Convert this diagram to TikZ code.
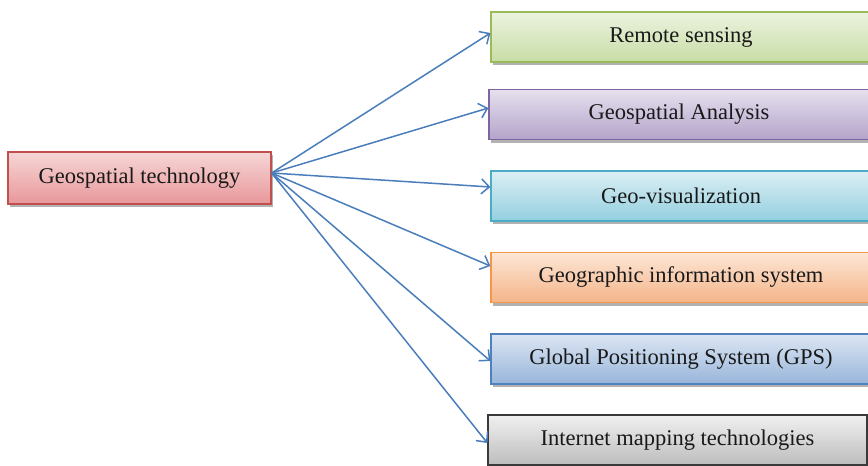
\documentclass[tikz,border=0pt]{standalone}
\usepackage{fontspec}
\setmainfont{Liberation Serif}
\usepackage{xcolor}
\usetikzlibrary{arrows.meta, shadows}
\definecolor{myred}{HTML}{C0504D}
\definecolor{myredtop}{HTML}{F6D6D6}
\definecolor{myredbot}{HTML}{E8979A}
\definecolor{mygreen}{HTML}{9BBB59}
\definecolor{mygreentop}{HTML}{ECF3E0}
\definecolor{mygreenbot}{HTML}{C8DDA6}
\definecolor{mypurple}{HTML}{8064A2}
\definecolor{mypurpletop}{HTML}{E6E0EE}
\definecolor{mypurplebot}{HTML}{B4A4CA}
\definecolor{mycyan}{HTML}{4BACC6}
\definecolor{mycyantop}{HTML}{DCEFF4}
\definecolor{mycyanbot}{HTML}{93CFDF}
\definecolor{myorange}{HTML}{F79646}
\definecolor{myorangetop}{HTML}{FCE6D6}
\definecolor{myorangebot}{HTML}{F5B589}
\definecolor{myblue}{HTML}{4F81BD}
\definecolor{mybluetop}{HTML}{DCE6F3}
\definecolor{mybluebot}{HTML}{98B5DA}
\definecolor{mygray}{HTML}{3A3A3A}
\definecolor{mygraytop}{HTML}{F0F0F0}
\definecolor{mygraybot}{HTML}{BDBDBD}
\definecolor{myarrow}{HTML}{4A7EBB}
\tikzset{
boxbase/.style={
line width=1.2pt,
minimum height=50pt,
minimum width=380pt,
inner sep=0pt,
font=\fontsize{22.5}{27}\selectfont,
text=black!90,
drop shadow={shadow xshift=2pt, shadow yshift=-3pt, opacity=0.3, fill=black}
},
redbox/.style={boxbase, draw=myred, top color=myredtop, bottom color=myredbot},
greenbox/.style={boxbase, draw=mygreen, top color=mygreentop, bottom color=mygreenbot},
purplebox/.style={boxbase, draw=mypurple, top color=mypurpletop, bottom color=mypurplebot},
cyanbox/.style={boxbase, draw=mycyan, top color=mycyantop, bottom color=mycyanbot},
orangebox/.style={boxbase, draw=myorange, top color=myorangetop, bottom color=myorangebot},
bluebox/.style={boxbase, draw=myblue, top color=mybluetop, bottom color=mybluebot},
graybox/.style={boxbase, draw=mygray, top color=mygraytop, bottom color=mygraybot},
arrow/.style={
-{Straight Barb[length=8pt,width=15pt,line width=1.5pt]},
line width=1.5pt,
draw=myarrow
}
}
\begin{document}
\begin{tikzpicture}[x=1pt,y=-1pt]
\useasboundingbox (0,0) rectangle (868,466);

\node[redbox, minimum width=263pt, minimum height=52pt] (tech) at (139.5,178) {Geospatial technology};

\node[greenbox] (remote) at (681,37) {Remote sensing};
\node[purplebox] (analysis) at (679,114.5) {Geospatial Analysis};
\node[cyanbox] (geovis) at (681,196) {Geo-visualization};
\node[orangebox] (gis) at (681,277.5) {Geographic information system};
\node[bluebox] (gps) at (681,359) {Global Positioning System (GPS)};
\node[graybox, minimum width=379pt] (web) at (677.5,440) {Internet mapping technologies};

\coordinate (hub) at ([yshift=5pt]tech.east);

\draw[arrow] (hub) -- ([yshift=4pt]remote.west);
\draw[arrow] (hub) -- ([yshift=6.5pt]analysis.west);
\draw[arrow] (hub) -- ([yshift=9pt]geovis.west);
\draw[arrow] (hub) -- ([yshift=11.5pt]gis.west);
\draw[arrow] (hub) -- ([yshift=-2pt]gps.west);
\draw[arrow] (hub) -- ([yshift=-3pt]web.west);

\end{tikzpicture}
\end{document}
